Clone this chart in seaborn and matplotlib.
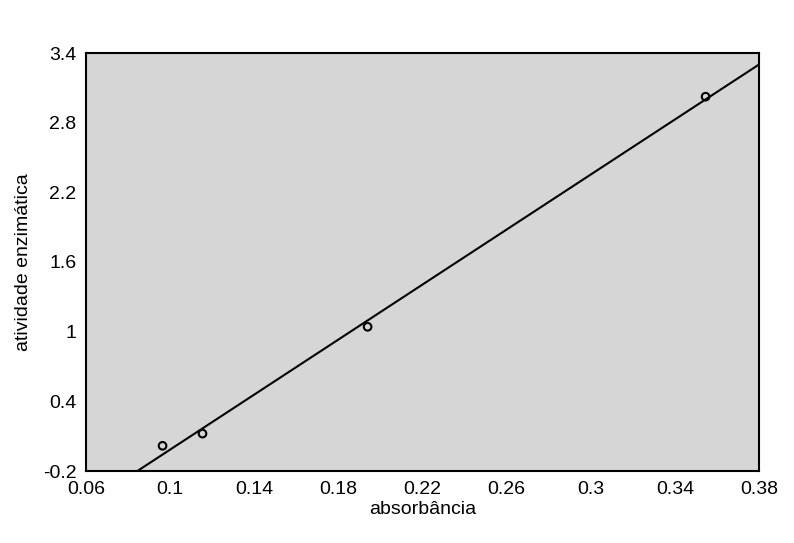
import numpy as np
import pandas as pd
import matplotlib
matplotlib.use("Agg")
import matplotlib.pyplot as plt
import seaborn as sns

# Data
absorbancia = [0.0964, 0.1154, 0.1939, 0.3546]
atividade = [0.017, 0.122, 1.042, 3.024]
x_ticks = [0.06, 0.1, 0.14, 0.18, 0.22, 0.26, 0.3, 0.34, 0.38]
x_tick_labels = ["0.06", "0.1", "0.14", "0.18", "0.22", "0.26", "0.3", "0.34", "0.38"]
y_ticks = [-0.2, 0.4, 1.0, 1.6, 2.2, 2.8, 3.4]
y_tick_labels = ["-0.2", "0.4", "1", "1.6", "2.2", "2.8", "3.4"]

sns.set_theme(style="white")
plt.rcParams['font.family'] = ['Liberation Sans', 'DejaVu Sans']

df = pd.DataFrame({"absorbância": absorbancia, "atividade enzimática": atividade})

fig = plt.figure(figsize=(7.94, 5.43), dpi=100)
ax = fig.add_axes([86 / 794, 1 - 471 / 543, 673 / 794, 418 / 543])
ax.set_facecolor("#d6d6d6")

# linear fit line
slope, intercept = np.polyfit(absorbancia, atividade, 1)
xfit = np.linspace(0.06, 0.38, 200)
fit_df = pd.DataFrame({"x": xfit, "y": slope * xfit + intercept})
sns.lineplot(data=fit_df, x="x", y="y", color="black", linewidth=1.5, ax=ax)

sns.scatterplot(data=df, x="absorbância", y="atividade enzimática", ax=ax,
                marker="o", s=30, facecolor="none", edgecolor="black", linewidth=1.5,
                zorder=3)

ax.set_xlim(0.06, 0.38)
ax.set_ylim(-0.2, 3.4)
ax.set_xticks(x_ticks)
ax.set_xticklabels(x_tick_labels)
ax.set_yticks(y_ticks)
ax.set_yticklabels(y_tick_labels)
ax.tick_params(axis="both", length=0, labelsize=14, colors="black", pad=7)
ax.set_xlabel("absorbância", fontsize=14, color="black", labelpad=2)
ax.set_ylabel("atividade enzimática", fontsize=14, color="black", labelpad=8)
for sp in ax.spines.values():
    sp.set_color("black")
    sp.set_linewidth(1.5)
    sp.set_visible(True)

fig.savefig("out.png", dpi=100, facecolor="white")
